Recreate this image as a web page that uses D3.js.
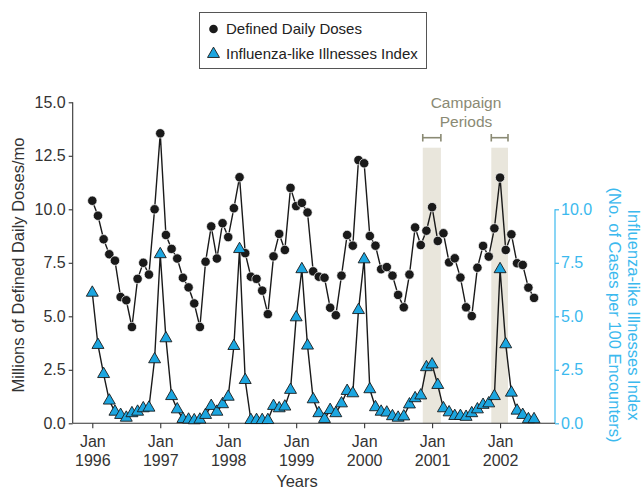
<!DOCTYPE html>
<html>
<head>
<meta charset="utf-8">
<script src="https://cdn.jsdelivr.net/npm/d3@7"></script>
<style>
  html, body { margin: 0; padding: 0; background: #fff; }
  svg { display: block; font-family: "Liberation Sans", Arial, Helvetica, sans-serif; }
</style>
</head>
<body>
<svg id="chart" width="642" height="491"></svg>
<script>
// ---- Data (monthly, Jan 1996 .. Jul 2002) ----
const startMonth = "1996-01";
const dddValues = [
  10.4, 9.7, 8.6, 7.9, 7.6, 5.9, 5.75, 4.5, 6.75, 7.5, 6.95, 10.0,
  13.55, 8.8, 8.15, 7.7, 6.8, 6.35, 5.6, 4.5, 7.55, 9.2, 7.7, 9.35,
  8.7, 10.05, 11.5, 7.95, 6.85, 6.75, 6.2, 5.1, 7.8, 8.85, 8.1, 11.0,
  10.15, 10.3, 9.85, 7.1, 6.85, 6.8, 5.4, 5.05, 6.9, 8.8, 8.3, 12.3,
  12.15, 8.75, 8.3, 7.2, 7.3, 6.9, 6.0, 5.42, 6.95, 9.15, 8.33, 9.0,
  10.1, 8.52, 8.88, 7.52, 7.71, 6.81, 5.42, 5.01, 7.27, 8.29, 7.79, 9.11,
  11.48, 8.1, 8.83, 7.48, 7.4, 6.34, 5.86
];
const iliValues = [
  6.1, 3.66, 2.3, 1.06, 0.54, 0.39, 0.26, 0.47, 0.54, 0.7, 0.73, 2.99,
  7.9, 3.97, 1.27, 0.65, 0.2, 0.17, 0.14, 0.17, 0.39, 0.81, 0.54, 0.89,
  1.24, 3.61, 8.14, 2.02, 0.15, 0.15, 0.15, 0.15, 0.81, 0.7, 0.78, 1.56,
  4.95, 7.2, 3.63, 1.12, 0.47, 0.2, 0.62, 0.47, 0.93, 1.51, 1.4, 5.29,
  7.66, 1.59, 0.75, 0.54, 0.5, 0.33, 0.26, 0.32, 0.88, 1.17, 1.3, 2.62,
  2.75, 1.79, 0.7, 0.51, 0.34, 0.34, 0.3, 0.47, 0.65, 0.86, 0.93, 1.27,
  7.2, 3.69, 1.43, 0.59, 0.39, 0.19, 0.19
];
const leftTicks = [0, 2.5, 5, 7.5, 10, 12.5, 15];
const rightTicks = [0, 2.5, 5, 7.5, 10];
const yearTicks = ["1996", "1997", "1998", "1999", "2000", "2001", "2002"];
// campaign periods, in months since Jan 1996
const campaignStart = [58.35, 70.45];
const campaignEnd = [61.55, 73.4];
const seriesNames = ["Defined Daily Doses", "Influenza-like Illnesses Index"];

// ---- Layout ----
const svg = d3.select("#chart");
const ink = "#333";
const blue = "#3bb9ee";
const triFill = "#1ca6e0";
const campaignColor = "#8a8a74";

const x = d3.scaleLinear().domain([-3.46, 81.7]).range([72.7, 555]);
const yL = d3.scaleLinear().domain([0, 15]).range([423.3, 102.3]);
const yR = d3.scaleLinear().domain([0, 10]).range([423.3, 209.3]);

const dddData = dddValues.map((v, i) => ({ m: i, v }));
const iliData = iliValues.map((v, i) => ({ m: i, v }));

// campaign shading
const periods = campaignStart.map((s, i) => ({ s, e: campaignEnd[i] }));
svg.append("g").selectAll("rect").data(periods).join("rect")
  .attr("x", d => x(d.s)).attr("width", d => x(d.e) - x(d.s))
  .attr("y", 147.7).attr("height", yL(0) - 147.7)
  .attr("fill", "#e9e6dc");

// brackets
const br = svg.append("g").attr("stroke", campaignColor).attr("stroke-width", 1.6).attr("fill", "none");
periods.forEach(d => {
  br.append("line").attr("x1", x(d.s)).attr("x2", x(d.e)).attr("y1", 137.7).attr("y2", 137.7);
  br.append("line").attr("x1", x(d.s)).attr("x2", x(d.s)).attr("y1", 134).attr("y2", 141.5);
  br.append("line").attr("x1", x(d.e)).attr("x2", x(d.e)).attr("y1", 134).attr("y2", 141.5);
});
const ct = svg.append("text").attr("fill", campaignColor).attr("font-size", 15.5)
  .attr("text-anchor", "middle");
ct.append("tspan").attr("x", 466).attr("y", 108).text("Campaign");
ct.append("tspan").attr("x", 466).attr("y", 127).text("Periods");

// ---- Axes ----
const axLeft = svg.append("g").attr("transform", `translate(${x.range()[0]},0)`)
  .call(d3.axisLeft(yL).tickValues(leftTicks).tickFormat(d3.format(".1f")).tickSize(4).tickPadding(3));
axLeft.select(".domain").attr("d", `M0,${yL(15)}V${yL(0)}`);
axLeft.selectAll("path,line").attr("stroke", ink).attr("stroke-width", 1.1);
axLeft.selectAll("text").attr("fill", ink).attr("font-size", 16).attr("font-family", null);

const axRight = svg.append("g").attr("transform", `translate(${x.range()[1]},0)`)
  .call(d3.axisRight(yR).tickValues(rightTicks).tickFormat(d3.format(".1f")).tickSize(4).tickPadding(2));
axRight.select(".domain").attr("d", `M0,${yR(10)}V${yR(0)}`);
axRight.selectAll("path,line").attr("stroke", blue).attr("stroke-width", 1.2);
axRight.selectAll("text").attr("fill", blue).attr("font-size", 16).attr("font-family", null);

const axBottom = svg.append("g").attr("transform", `translate(0,${yL(0)})`)
  .call(d3.axisBottom(x).tickValues(yearTicks.map((y, i) => i * 12)).tickSize(5).tickFormat(() => ""));
axBottom.select(".domain").attr("d", `M${x.range()[0]},0H${x.range()[1]}`);
axBottom.selectAll("path,line").attr("stroke", ink).attr("stroke-width", 1.1);
axBottom.selectAll(".tick text").remove();
axBottom.selectAll(".tick").each(function (d, i) {
  const t = d3.select(this).append("text").attr("fill", ink).attr("font-size", 16)
    .attr("text-anchor", "middle");
  t.append("tspan").attr("x", 0).attr("y", 24).text("Jan");
  t.append("tspan").attr("x", 0).attr("y", 42.5).text(yearTicks[i]);
});

// axis titles
svg.append("text").attr("transform", "translate(24,265) rotate(-90)")
  .attr("text-anchor", "middle").attr("font-size", 16.5).attr("fill", ink)
  .text("Millions of Defined Daily Doses/mo");
svg.append("text").attr("x", 297).attr("y", 487).attr("text-anchor", "middle")
  .attr("font-size", 16.5).attr("fill", ink).text("Years");
svg.append("text").attr("transform", "translate(628,315) rotate(90)")
  .attr("text-anchor", "middle").attr("font-size", 16.5).attr("fill", blue)
  .text("Influenza-like Illnesses Index");
svg.append("text").attr("transform", "translate(609,315) rotate(90)")
  .attr("text-anchor", "middle").attr("font-size", 16.5).attr("fill", blue)
  .text("(No. of Cases per 100 Encounters)");

// ---- Series ----
const lineL = d3.line().x(d => x(d.m)).y(d => yL(d.v));
const lineR = d3.line().x(d => x(d.m)).y(d => yR(d.v));
const tri = d3.symbol().type(d3.symbolTriangle).size(62);

svg.append("path").datum(dddData).attr("d", lineL)
  .attr("fill", "none").attr("stroke", "#1a1a1a").attr("stroke-width", 1.4);
svg.append("g").selectAll("circle").data(dddData).join("circle")
  .attr("cx", d => x(d.m)).attr("cy", d => yL(d.v)).attr("r", 4.7)
  .attr("fill", "#1a1a1a").attr("stroke", "#fff").attr("stroke-width", 0.7);

svg.append("path").datum(iliData).attr("d", lineR)
  .attr("fill", "none").attr("stroke", "#1a1a1a").attr("stroke-width", 1.4);
svg.append("g").selectAll("path").data(iliData).join("path")
  .attr("d", tri)
  .attr("transform", d => `translate(${x(d.m)},${yR(d.v)})`)
  .attr("fill", triFill).attr("stroke", "#1a1a1a").attr("stroke-width", 0.9);

// ---- Legend ----
const lg = svg.append("g");
lg.append("rect").attr("x", 199.5).attr("y", 12.5).attr("width", 227).attr("height", 56)
  .attr("fill", "#fff").attr("stroke", "#555").attr("stroke-width", 1);
lg.append("circle").attr("cx", 213.5).attr("cy", 29).attr("r", 4.3).attr("fill", "#1a1a1a");
lg.append("path").attr("d", tri).attr("transform", "translate(213.5,54)")
  .attr("fill", triFill).attr("stroke", "#1a1a1a").attr("stroke-width", 0.9);
lg.selectAll("text.lbl").data(seriesNames).join("text").attr("class", "lbl")
  .attr("x", 226).attr("y", (d, i) => 34 + i * 25)
  .attr("font-size", 15).attr("fill", "#222").text(d => d);
</script>
</body>
</html>
